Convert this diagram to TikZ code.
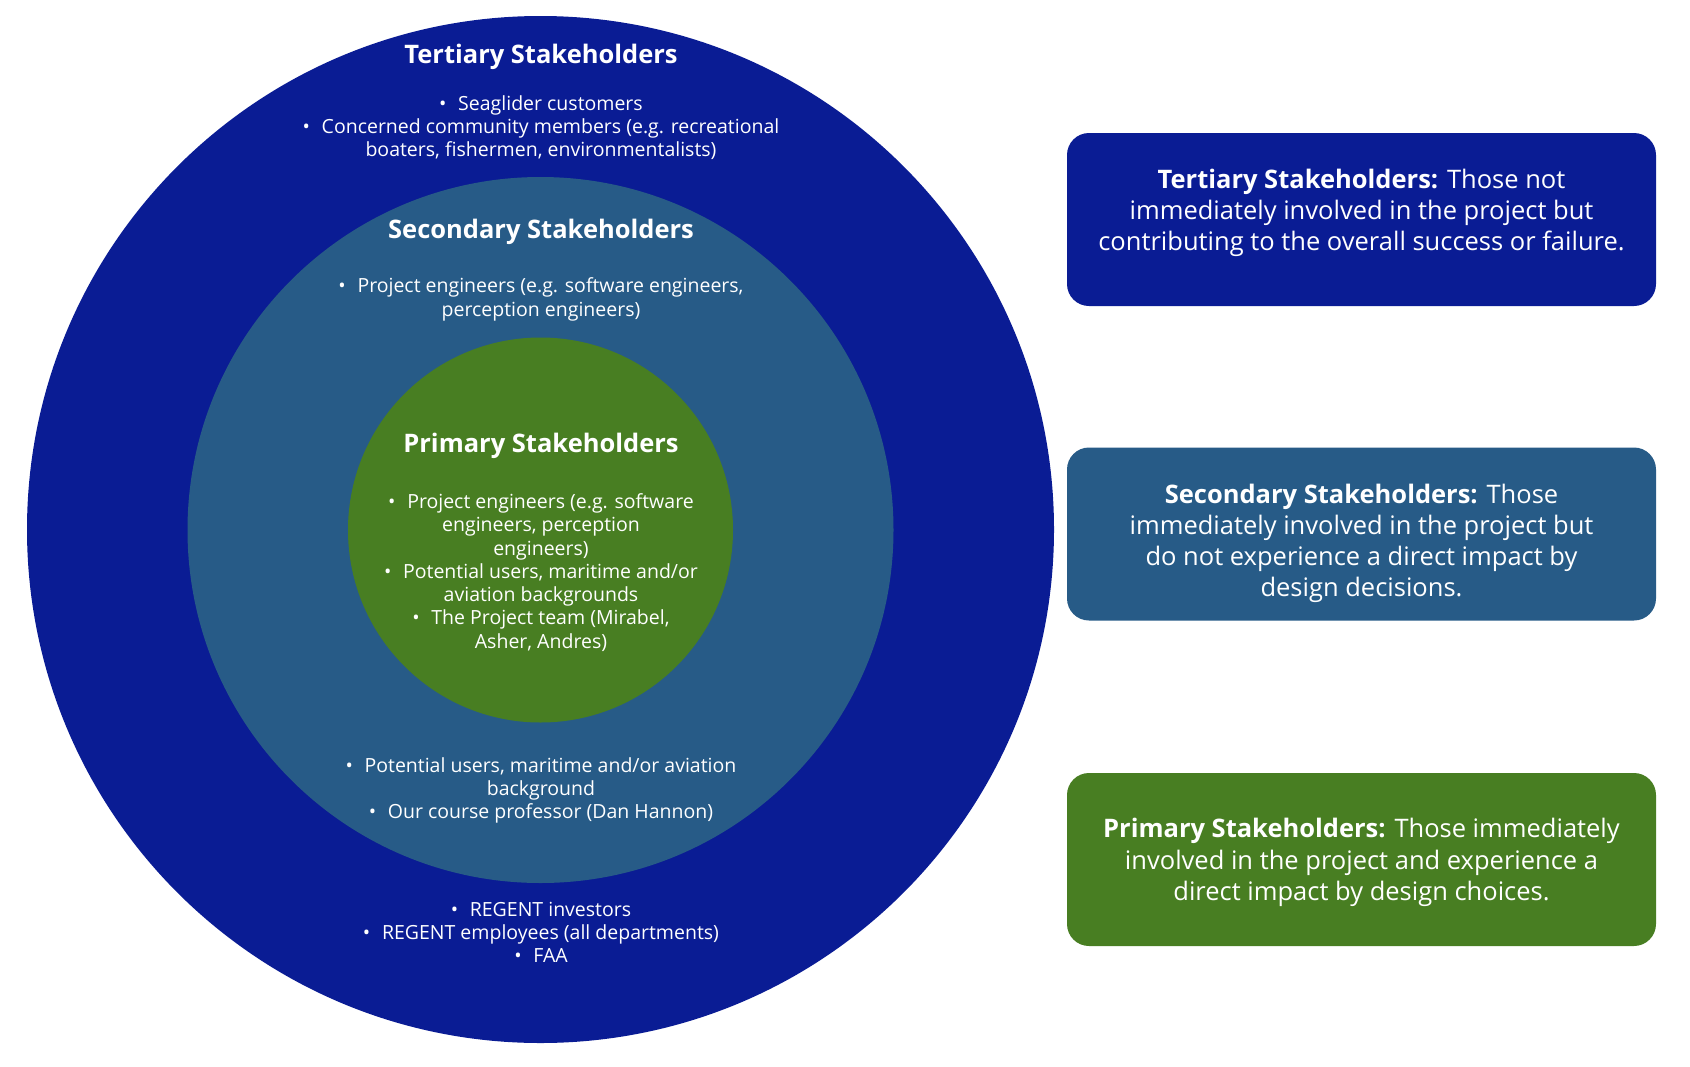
\documentclass[tikz,border=0pt]{standalone}
\usepackage{fontspec}
\setmainfont{Open Sans}
\definecolor{tert}{HTML}{0A1C94}
\definecolor{secd}{HTML}{275B87}
\definecolor{prim}{HTML}{487E22}
\newcommand{\bl}{\textbullet\hspace{0.6em}}
\begin{document}
\begin{tikzpicture}[x=1pt,y=-1pt,
  ring/.style={circle,inner sep=0pt,draw=none},
  ttl/.style={text=white,font={\fontsize{25.5}{30}\selectfont\bfseries}},
  lst/.style={text=white,align=center,font={\fontsize{19.5}{23.3}\selectfont}},
  infobox/.style={rounded corners=22pt,minimum width=589pt,minimum height=173pt,inner sep=0pt,draw=none},
  infotxt/.style={text=white,align=center,font={\fontsize{25.5}{31.2}\selectfont}}]
\useasboundingbox (0,0) rectangle (1690,1066);
\node[ring,fill=tert,minimum size=1027pt] (outer) at (540.5,529.5) {};
\node[ring,fill=secd,minimum size=706pt] (mid) at (540.5,530) {};
\node[ring,fill=prim,minimum size=385pt] (inner) at (540.5,530) {};

\node[ttl] (tT) at (541,57) {Tertiary Stakeholders};
\node[lst,anchor=north] (tL1) at (541,92) {\bl Seaglider customers\\
\bl Concerned community members (e.g. recreational\\boaters, fishermen, environmentalists)};
\node[ttl] (sT) at (541,231.5) {Secondary Stakeholders};
\node[lst,anchor=north] (sL1) at (541,274.5) {\bl Project engineers (e.g. software engineers,\\perception engineers)};
\node[ttl] (pT) at (541,446) {Primary Stakeholders};
\node[lst,anchor=north] (pL) at (541,490) {\bl Project engineers (e.g. software\\engineers, perception\\engineers)\\
\bl Potential users, maritime and/or\\aviation backgrounds\\
\bl The Project team (Mirabel,\\Asher, Andres)};
\node[lst,anchor=north] (sL2) at (541,754) {\bl Potential users, maritime and/or aviation\\background\\
\bl Our course professor (Dan Hannon)};
\node[lst,anchor=north] (tL2) at (541,898.5) {\bl REGENT investors\\
\bl REGENT employees (all departments)\\
\bl FAA};

\node[infobox,fill=tert] (bT) at (1361.5,219.5) {};
\node[infotxt] at ([yshift=6.5pt]bT.center) {\textbf{Tertiary Stakeholders:} Those not\\immediately involved in the project but\\contributing to the overall success or failure.};
\node[infobox,fill=secd] (bS) at (1361.5,534) {};
\node[infotxt] at ([yshift=-9.5pt]bS.center) {\textbf{Secondary Stakeholders:} Those\\immediately involved in the project but\\do not experience a direct impact by\\design decisions.};
\node[infobox,fill=prim] (bP) at (1361.5,859.5) {};
\node[infotxt] at ([yshift=-3pt]bP.center) {\textbf{Primary Stakeholders:} Those immediately\\involved in the project and experience a\\direct impact by design choices.};
\end{tikzpicture}
\end{document}
